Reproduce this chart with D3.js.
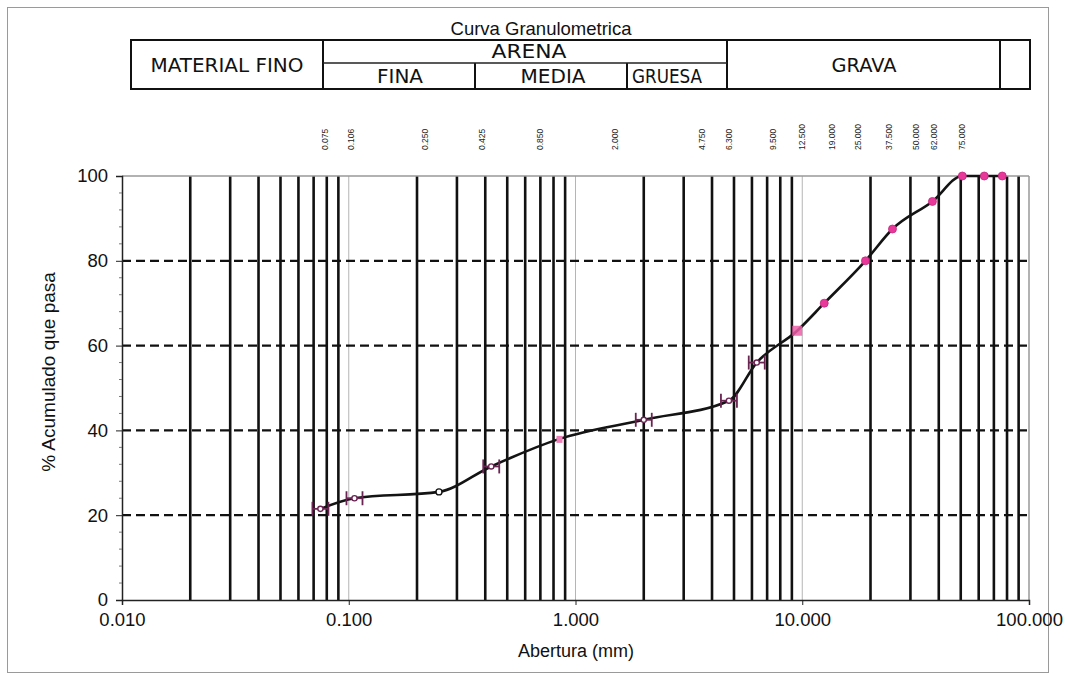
<!DOCTYPE html>
<html>
<head>
<meta charset="utf-8">
<script src="https://cdn.jsdelivr.net/npm/d3@7/dist/d3.min.js"></script>
<style>
  html, body { margin: 0; padding: 0; background: #fff; }
  svg { display: block; font-family: "Liberation Sans", Arial, sans-serif; }
</style>
</head>
<body>
<svg id="chart" width="1078" height="675"></svg>
<script>
// Sieve openings (mm) and cumulative % passing
const aperturas = [0.075, 0.106, 0.25, 0.425, 0.85, 2.0, 4.75, 6.3, 9.5, 12.5, 19.0, 25.0, 37.5, 50.8, 63.5, 76.2];
const pasa      = [21.5, 24.0, 25.5, 31.5, 38.0, 42.5, 47.0, 56.0, 63.5, 70.0, 80.0, 87.5, 94.0, 100, 100, 100];

// Sieve labels printed above the plot
const tamicesLabels = ["0.075", "0.106", "0.250", "0.425", "0.850", "2.000", "4.750", "6.300", "9.500",
                       "12.500", "19.000", "25.000", "37.500", "50.000", "62.000", "75.000"];

const yTicks = [0, 20, 40, 60, 80, 100];
const xTicks = [0.01, 0.1, 1, 10, 100];

const titulo = "Curva Granulometrica";
const ejeX = "Abertura (mm)";
const ejeY = "% Acumulado que pasa";

// ---- layout ----
const svg = d3.select("#chart");
const plot = { left: 122, right: 1029, top: 176, bottom: 600 };

const x = d3.scaleLog().domain([0.01, 100]).range([plot.left, plot.right]);
const y = d3.scaleLinear().domain([0, 100]).range([plot.bottom, plot.top]);

// outer frame
svg.append("rect").attr("x", 7.5).attr("y", 7.5).attr("width", 1041).attr("height", 665)
  .attr("fill", "none").attr("stroke", "#9a9a9a").attr("stroke-width", 1);

// ---- header table ----
const hdr = svg.append("g");
const hTop = 40, hMid = 63, hBot = 89;
const cFino = 131, cArena = 323, cMedia = 475, cGruesa = 627, cGrava = 727, cEnd = 1000, cRight = 1030;
hdr.append("text").attr("x", 541).attr("y", 35).attr("text-anchor", "middle")
  .attr("font-size", 18.5).attr("fill", "#111").text(titulo);
hdr.append("rect").attr("x", cFino).attr("y", hTop).attr("width", cRight - cFino).attr("height", hBot - hTop)
  .attr("fill", "none").attr("stroke", "#111").attr("stroke-width", 2);
[cArena, cGrava, cEnd].forEach(cx => hdr.append("line").attr("x1", cx).attr("x2", cx)
  .attr("y1", hTop).attr("y2", hBot).attr("stroke", "#111").attr("stroke-width", 2));
[cMedia, cGruesa].forEach(cx => hdr.append("line").attr("x1", cx).attr("x2", cx)
  .attr("y1", hMid).attr("y2", hBot).attr("stroke", "#111").attr("stroke-width", 2));
hdr.append("line").attr("x1", cArena).attr("x2", cGrava).attr("y1", hMid).attr("y2", hMid)
  .attr("stroke", "#222").attr("stroke-width", 1.5);
const hText = (t, tx, ty, w, anchor) => hdr.append("text").attr("x", tx).attr("y", ty)
  .attr("text-anchor", anchor || "middle").attr("font-family", "'DejaVu Sans', Verdana, sans-serif")
  .attr("font-size", 20).attr("fill", "#111")
  .attr("textLength", w).attr("lengthAdjust", "spacingAndGlyphs").text(t);
hText("MATERIAL FINO", 227, 72, 153);
hText("ARENA", 529, 58, 75);
hText("FINA", 400, 83, 46);
hText("MEDIA", 553, 83, 65);
hText("GRUESA", 632, 83, 70, "start");
hText("GRAVA", 864, 72, 65);

// sieve labels (rotated), read upward from just above the plot
const sieveLabelX = [325, 351, 425, 482, 540, 615, 702, 729, 773, 802, 832, 858, 889, 916, 934, 962];
svg.append("g").selectAll("text").data(tamicesLabels).join("text")
  .attr("transform", (d, i) => `translate(${sieveLabelX[i] + 3},150) rotate(-90)`)
  .attr("text-anchor", "start").attr("font-size", 8.5).attr("fill", "#222").text(d => d);

// ---- grid ----
const grid = svg.append("g");
const minorX = [];
for (let k = -2; k <= 1; k++) for (let m = 2; m <= 9; m++) minorX.push(m * Math.pow(10, k));
grid.selectAll(".vminor").data(minorX).join("line")
  .attr("x1", d => x(d)).attr("x2", d => x(d)).attr("y1", plot.top).attr("y2", plot.bottom)
  .attr("stroke", "#111").attr("stroke-width", 2.6);
grid.selectAll(".vmajor").data([0.1, 1, 10]).join("line")
  .attr("x1", d => x(d)).attr("x2", d => x(d)).attr("y1", plot.top).attr("y2", plot.bottom)
  .attr("stroke", "#b5b5b5").attr("stroke-width", 1);
grid.selectAll(".hgrid").data([20, 40, 60, 80]).join("line")
  .attr("x1", plot.left).attr("x2", plot.right).attr("y1", d => y(d)).attr("y2", d => y(d))
  .attr("stroke", "#111").attr("stroke-width", 2.2).attr("stroke-dasharray", "9,5");
// top and right border
grid.append("line").attr("x1", plot.left).attr("x2", plot.right).attr("y1", plot.top).attr("y2", plot.top)
  .attr("stroke", "#999").attr("stroke-width", 1.5);
grid.append("line").attr("x1", plot.right).attr("x2", plot.right).attr("y1", plot.top).attr("y2", plot.bottom)
  .attr("stroke", "#999").attr("stroke-width", 1.5);

// ---- axes ----
const yAxis = svg.append("g").attr("transform", `translate(${plot.left},0)`)
  .call(d3.axisLeft(y).tickValues(yTicks).tickSize(6).tickPadding(8).tickFormat(d3.format("d")));
const yMinor = d3.range(0, 101, 4).filter(v => v % 20 !== 0);
svg.append("g").attr("transform", `translate(${plot.left},0)`).selectAll("line").data(yMinor).join("line")
  .attr("x1", -3).attr("x2", 0).attr("y1", d => y(d)).attr("y2", d => y(d)).attr("stroke", "#777");
const xAxis = svg.append("g").attr("transform", `translate(0,${plot.bottom})`)
  .call(d3.axisBottom(x).tickValues(xTicks).tickSize(5).tickPadding(8).tickFormat(d3.format(".3f")));
[yAxis, xAxis].forEach(a => {
  a.select(".domain").attr("stroke", "#222").attr("stroke-width", 1.5);
  a.selectAll(".tick line").attr("stroke", "#222");
  a.selectAll("text").attr("font-size", 18.5).attr("fill", "#111").attr("font-family", "'Liberation Sans', Arial, sans-serif");
});

svg.append("text").attr("x", 576).attr("y", 657).attr("text-anchor", "middle")
  .attr("font-size", 18).attr("fill", "#111").text(ejeX);
svg.append("text").attr("transform", `translate(55,372) rotate(-90)`)
  .attr("text-anchor", "middle").attr("font-size", 19).attr("fill", "#111").text(ejeY);

// ---- curve ----
const pts = aperturas.map((a, i) => ({ a, p: pasa[i] }));
const line = d3.line().x(d => x(d.a)).y(d => y(d.p)).curve(d3.curveMonotoneX);
svg.append("path").datum(pts).attr("d", line).attr("fill", "none")
  .attr("stroke", "#141414").attr("stroke-width", 2.6);

// markers: finer sieves with bracket markers, coarser ones with pink dots
const mk = svg.append("g");
pts.filter(d => d.a < 8).forEach(d => {
  const cx = x(d.a), cy = y(d.p);
  if (d.a === 0.25) {
    mk.append("circle").attr("cx", cx).attr("cy", cy).attr("r", 3)
      .attr("fill", "#fff").attr("stroke", "#111").attr("stroke-width", 1.4);
    return;
  }
  if (d.a === 0.85) {
    mk.append("rect").attr("x", cx - 3).attr("y", cy - 3).attr("width", 6).attr("height", 7)
      .attr("fill", "#ef7fb8");
    return;
  }
  const g = mk.append("g").attr("stroke", "#6a2452").attr("stroke-width", 1.8);
  g.append("line").attr("x1", cx - 8).attr("x2", cx + 8).attr("y1", cy).attr("y2", cy);
  g.append("line").attr("x1", cx - 8).attr("x2", cx - 8).attr("y1", cy - 7).attr("y2", cy + 7);
  g.append("line").attr("x1", cx + 8).attr("x2", cx + 8).attr("y1", cy - 7).attr("y2", cy + 7);
  g.append("circle").attr("cx", cx).attr("cy", cy).attr("r", 2.6).attr("fill", "#fff").attr("stroke-width", 1.4);
});
pts.filter(d => d.a >= 8).forEach(d => {
  const cx = x(d.a), cy = y(d.p);
  if (d.a === 9.5) {
    mk.append("rect").attr("x", cx - 5).attr("y", cy - 5).attr("width", 10).attr("height", 10)
      .attr("fill", "#ec5fa8").attr("opacity", 0.85);
  } else {
    mk.append("circle").attr("cx", cx).attr("cy", cy).attr("r", 4)
      .attr("fill", "#e8389a").attr("stroke", "#c02a7e").attr("stroke-width", 0.8);
  }
});
</script>
</body>
</html>
